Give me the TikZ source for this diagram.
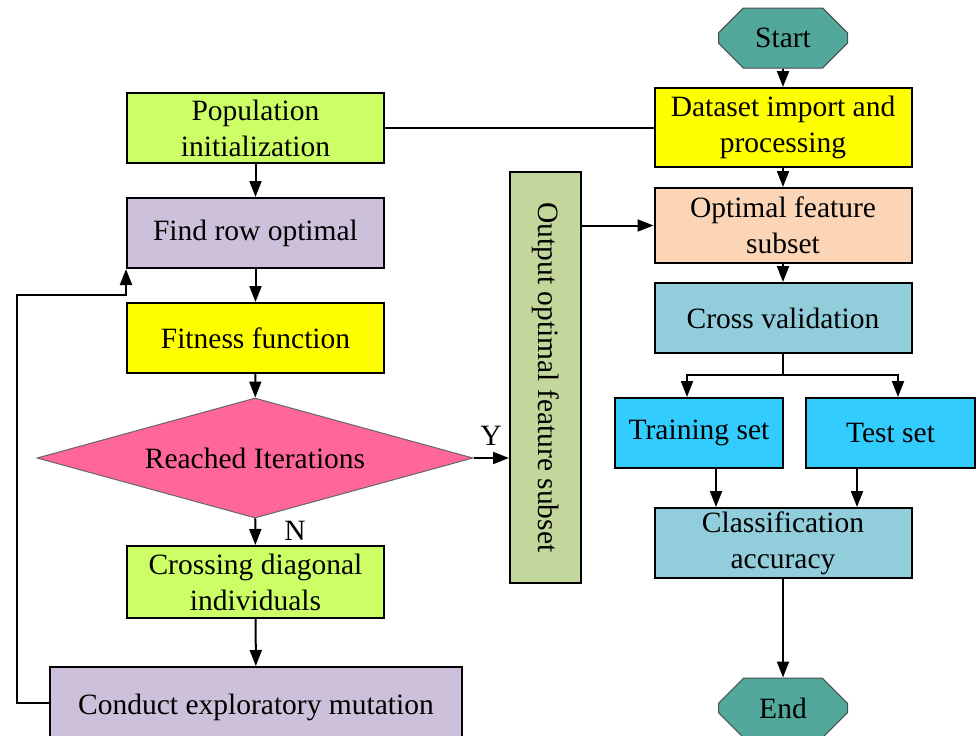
\documentclass[tikz,border=0pt]{standalone}
\usepackage{fontspec}
\setmainfont{Liberation Serif}
\usetikzlibrary{shapes.geometric,shapes.misc,arrows.meta}
\definecolor{cteal}{HTML}{52A89A}
\definecolor{cyel}{HTML}{FFFF00}
\definecolor{clime}{HTML}{CCFF66}
\definecolor{clav}{HTML}{CCC0DA}
\definecolor{cpeach}{HTML}{FBD5B5}
\definecolor{clblue}{HTML}{92CDDC}
\definecolor{ccyan}{HTML}{33CCFF}
\definecolor{cpink}{HTML}{FF6699}
\definecolor{csage}{HTML}{C3D69B}
\tikzset{
  box/.style={draw, line width=2pt, inner sep=0pt, align=center,
    minimum width=257pt, minimum height=70pt,
    font=\fontsize{29.5}{36}\selectfont},
  term/.style={draw=black!70, line width=1pt, chamfered rectangle, chamfered rectangle xsep=15pt,
    chamfered rectangle ysep=15pt, inner sep=0pt, minimum width=129pt, minimum height=60pt,
    fill=cteal, font=\fontsize{29.5}{36}\selectfont},
  arr/.style={line width=2pt, -{Triangle[length=16pt,width=12pt]}},
  ln/.style={line width=2pt},
  lab/.style={font=\fontsize{29.5}{36}\selectfont, inner sep=0pt}
}
\begin{document}
\begin{tikzpicture}[x=1pt,y=-1pt]
\path[use as bounding box, clip] (0,0) rectangle (977,736);
% right column
\node[term] (start) at (783,38) {Start};
\node[box, fill=cyel, minimum height=79pt] (data) at (783,127.5) {Dataset import and\\processing};
\node[box, fill=cpeach, minimum height=75pt] (opt) at (783,225.5) {Optimal feature\\subset};
\node[box, fill=clblue] (cv) at (783,318) {Cross validation};
\node[box, fill=ccyan, minimum width=168pt] (train) at (699,433) {Training set};
\node[box, fill=ccyan, minimum width=169pt] (test) at (890.5,433) {Test set};
\node[box, fill=clblue] (cla) at (783,543) {Classification\\accuracy};
\node[term] (end) at (783,708) {End};
% left column
\node[box, fill=clime] (pop) at (255.5,128) {Population\\initialization};
\node[box, fill=clav] (find) at (255.5,233) {Find row optimal};
\node[box, fill=cyel] (fit) at (255.5,338) {Fitness function};
\node[diamond, draw=black!60, line width=1pt, fill=cpink, inner sep=0pt, aspect=3.63,
  minimum width=436pt, minimum height=120pt, font=\fontsize{29.5}{36}\selectfont] (dia) at (255,458) {Reached Iterations};
\node[box, fill=clime, minimum height=72pt] (cross) at (255.5,582) {Crossing diagonal\\individuals};
\node[box, fill=clav, minimum width=412pt, minimum height=80pt] (cem) at (256,707) {\raisebox{4pt}{Conduct exploratory mutation}};
% output vertical box
\node[box, fill=csage, minimum width=411pt, minimum height=71pt, rotate=-90] (out) at (545.5,377.5) {Output optimal feature subset};
% labels
\node[lab] (ylab) at (491,436) {Y};
\node[lab] (nlab) at (295,531) {N};
% connectors right
\draw[arr] (start) -- (data);
\draw[arr] (data) -- (opt);
\draw[arr] (opt) -- (cv);
\coordinate (tl) at (687,375);
\coordinate (tr) at (898,375);
\draw[ln] (cv.south) -- (cv.south |- tl);
\draw[ln, line cap=rect] (tl) -- (tr);
\draw[arr] (tl) -- (tl |- train.north);
\draw[arr] (tr) -- (tr |- test.north);
\coordinate (a1) at (716,0);
\coordinate (a2) at (857,0);
\draw[arr] (train.south -| a1) -- (cla.north -| a1);
\draw[arr] (test.south -| a2) -- (cla.north -| a2);
\draw[arr] (cla) -- (end);
% connectors left
\draw[ln] (pop.east) -- (data.west |- pop.east);
\draw[arr] (pop) -- (find);
\draw[arr] (find) -- (fit);
\draw[arr] (fit) -- (dia);
\draw[arr] (dia) -- (cross);
\draw[arr] (cross) -- (cem);
\coordinate (lp) at (17,295);
\draw[arr] (cem.west |- 0,703) -| (lp) -| (find.south west);
\draw[arr] (dia.east) -- (dia.east -| out.south);
\draw[arr] (out.north |- opt.west) -- (opt.west);
\end{tikzpicture}
\end{document}
